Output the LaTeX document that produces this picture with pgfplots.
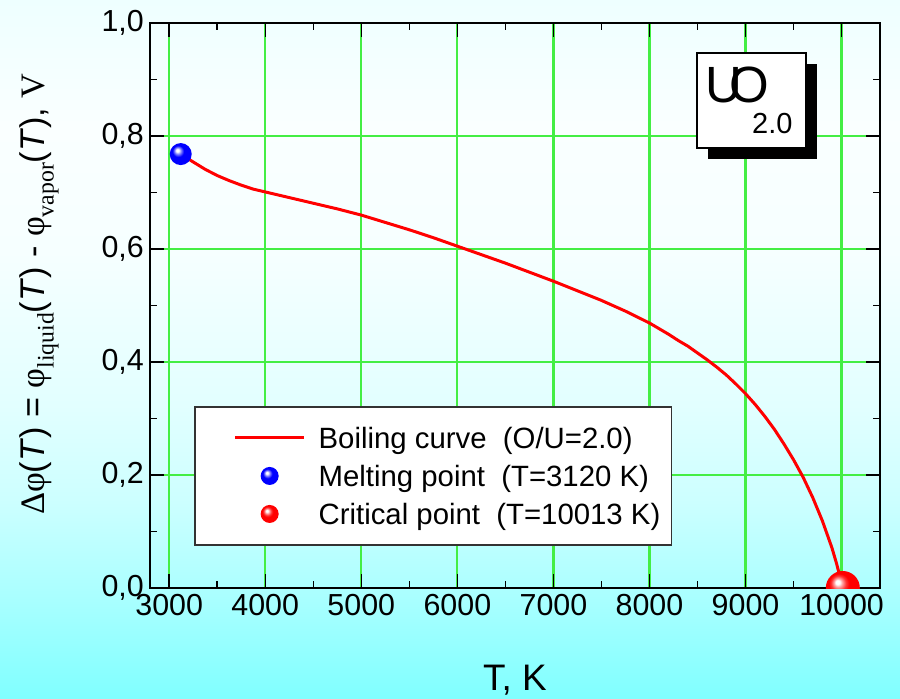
\documentclass[border=0pt]{standalone}
\usepackage{fontspec}
\setmainfont{Liberation Sans}
\newfontfamily\serif{Liberation Serif}
\usepackage{pgfplots}
\pgfplotsset{compat=1.18}
\usetikzlibrary{shadows}

\definecolor{gridgreen}{HTML}{44EE44}
\definecolor{bgbot}{HTML}{80FFFF}
\definecolor{bgA}{HTML}{A8FFFF}
\definecolor{bgB}{HTML}{CCFFFF}
\definecolor{bgC}{HTML}{E2FFFF}
\definecolor{bgD}{HTML}{F6FFFF}
\definecolor{bgE}{HTML}{FAFFFF}
\definecolor{bgtop}{HTML}{EEFFFF}
\pgfdeclareverticalshading{bgshade}{100bp}{color(0bp)=(bgbot); color(25bp)=(bgbot);
  color(32bp)=(bgA); color(39bp)=(bgB); color(46bp)=(bgC); color(57bp)=(bgD);
  color(66bp)=(bgE); color(75bp)=(bgtop); color(100bp)=(bgtop)}

% glossy balls for the two points
\pgfdeclareradialshading{redglossy}{\pgfpoint{-8bp}{9bp}}{color(0bp)=(white);
  color(3bp)=(white); color(6bp)=(red!35!white); color(11bp)=(red!80!white);
  color(15bp)=(red); color(34bp)=(red); color(50bp)=(red!80!black)}
\pgfdeclareradialshading{blueglossy}{\pgfpoint{-8bp}{9bp}}{color(0bp)=(white);
  color(3bp)=(white); color(7bp)=(blue!45!white); color(13bp)=(blue);
  color(30bp)=(blue); color(42bp)=(blue!75!black); color(50bp)=(blue!60!black)}
\pgfdeclareplotmark{redball}{\pgfpathcircle{\pgfpointorigin}{\pgfplotmarksize}\pgfshadepath{redglossy}{0}\pgfusepath{}}
\pgfdeclareplotmark{blueball}{\pgfpathcircle{\pgfpointorigin}{\pgfplotmarksize}\pgfshadepath{blueglossy}{0}\pgfusepath{}}

\newcommand\sub[1]{\raisebox{-0.28em}{\fontsize{13.5}{15}\selectfont\serif #1}}

\pgfplotsset{
  lineleg/.style={legend image code/.code={\path (0mm,0mm); \draw[##1] (5.6mm,0mm) -- (19.4mm,0mm);}},
  ballleg/.style={legend image code/.code={\path (0mm,0mm); \draw[##1, mark size=1.8mm] plot coordinates {(12.5mm,0mm)};}},
}

\begin{document}
\begin{tikzpicture}
\shade[shading=bgshade] (-30mm,-22mm) rectangle (150mm,117.6mm);
\begin{axis}[
  scale only axis, width=146mm, height=113mm,
  xmin=2800, xmax=10400, ymin=0, ymax=1,
  xtick={3000,4000,5000,6000,7000,8000,9000,10000},
  ytick={0,0.2,0.4,0.6,0.8,1},
  minor x tick num=1, minor y tick num=1,
  tick pos=both, tick align=inside,
  major tick length=2.8mm, minor tick length=1.4mm,
  axis line style={line width=0.3mm},
  major tick style={draw=black, line width=0.3mm},
  minor tick style={draw=black, line width=0.3mm},
  xmajorgrids, ymajorgrids,
  major x grid style={draw=gridgreen, line width=1.25pt},
  major y grid style={draw=gridgreen, line width=0.8pt},
  scaled x ticks=false,
  /pgf/number format/assume math mode=true,
  x tick label style={/pgf/number format/1000 sep={}},
  y tick label style={/pgf/number format/.cd, fixed, fixed zerofill, precision=1, use comma},
  ticklabel style={font=\fontsize{17.3}{20}\selectfont},
  xlabel={T, K},
  xlabel style={at={(axis description cs:0.5,-0.163)}, anchor=center, font=\fontsize{21}{24}\selectfont},
  ylabel={{\serif Δφ}(\textit{T}) = {\serif φ}\sub{liquid}(\textit{T}) - {\serif φ}\sub{vapor}(\textit{T}), {\serif V}},
  ylabel style={at={(axis description cs:-0.152,0.52)}, anchor=center, font=\fontsize{19.5}{22}\selectfont},
  clip marker paths=true,
  legend cell align=left,
  legend style={at={(axis description cs:0.060,0.322)}, anchor=north west,
    draw=black!80, line width=0.35mm, fill=white,
    inner xsep=2.2mm, inner ysep=4.1mm, row sep=3.4mm,
    font=\fontsize{16.7}{19}\selectfont,
    nodes={inner sep=0pt, text height=4.2mm, text depth=0mm},
    /tikz/every odd column/.append style={column sep=2.6mm}},
]
\addplot[red, line width=1.7pt, line join=round, lineleg]
  coordinates {
  (3120,0.768) (3250,0.754) (3375,0.741) (3500,0.730) (3625,0.721)
  (3750,0.713) (3875,0.706) (4000,0.701) (4250,0.691) (4500,0.681)
  (4750,0.671) (5000,0.660) (5250,0.647) (5500,0.634) (5750,0.620)
  (6000,0.605) (6250,0.590) (6500,0.575) (6750,0.559) (7000,0.543)
  (7250,0.526) (7500,0.509) (7750,0.490) (8000,0.469) (8100,0.459)
  (8200,0.449) (8300,0.438) (8400,0.428) (8500,0.416) (8600,0.404)
  (8700,0.391) (8800,0.377) (8900,0.361) (9000,0.344) (9100,0.325)
  (9200,0.304) (9300,0.281) (9400,0.255) (9500,0.227) (9600,0.196)
  (9700,0.160) (9800,0.119) (9900,0.071) (9950,0.042) (10013,0.0)
  };
\addlegendentry{Boiling curve\ \ (O/U=2.0)}
\addplot[only marks, mark=blueball, mark size=2.2mm, ballleg]
  coordinates {(3120,0.768)};
\addlegendentry{Melting point\ \ (T=3120 K)}
\addplot[only marks, mark=redball, mark size=3.4mm, ballleg]
  coordinates {(10013,0.0)};
\addlegendentry{Critical point\ \ (T=10013 K)}
\node[draw=black, line width=0.3mm, fill=white, inner sep=0pt,
  minimum width=21.8mm, minimum height=19mm,
  drop shadow={shadow xshift=2.2mm, shadow yshift=-2.2mm, fill=black, opacity=1}]
  at (axis description cs:0.824,0.863)
  {\kern-1mm{\fontsize{29}{30}\selectfont U\kern-0.25em O}\kern-3.4mm\raisebox{-6.2mm}{\fontsize{16.5}{18}\selectfont 2.0}};
\end{axis}
\pgfresetboundingbox
\path[use as bounding box] (-30mm,-22mm) rectangle (150mm,117.6mm);
\end{tikzpicture}
\end{document}
